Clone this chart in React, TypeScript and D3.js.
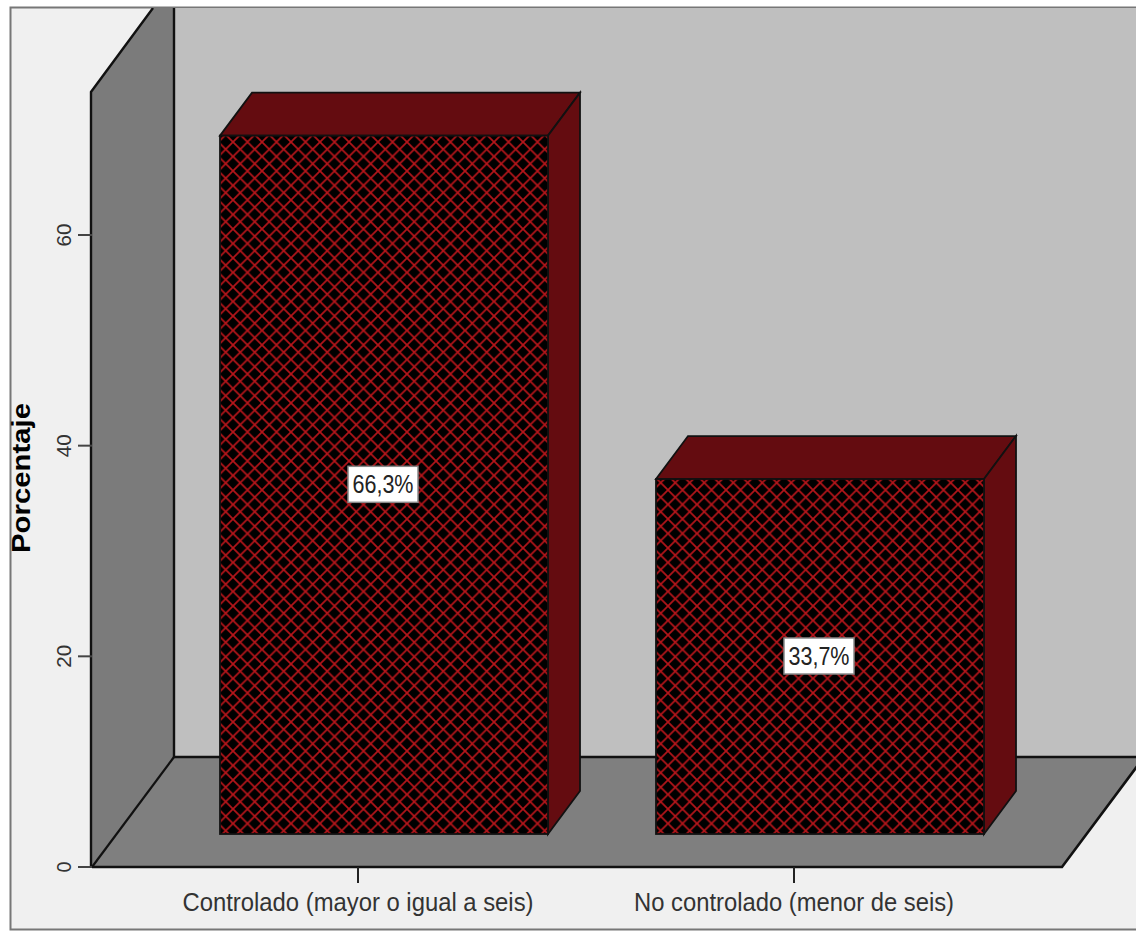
import React from "react";
import * as d3 from "d3";

const categories = ["Controlado (mayor o igual a seis)", "No controlado (menor de seis)"];
const percentages = [66.3, 33.7];
const percentLabels = ["66,3%", "33,7%"];
const yTicks = [0, 20, 40, 60];
const yTitle = "Porcentaje";

const W = 1136;
const H = 931;
const depthX = 32;
const depthY = 43;
const barInset = 33;

const y = d3.scaleLinear().domain([0, 60]).range([867, 235]);
const x = d3.scaleBand<string>().domain(categories).range([140, 1012]);
const barWidth = 328;

const poly = (pts: [number, number][]) => d3.line()(pts) + "Z";
const font = "'Liberation Sans', Arial, sans-serif";

export default function App() {
  return (
    <svg width={W} height={H} viewBox={`0 0 ${W} ${H}`} style={{ position: "absolute", left: 0, top: 0, display: "block" }}>
      <defs>
        <pattern id="hatch" width={14.5} height={14.5} patternUnits="userSpaceOnUse" x={233} y={142}>
          <rect width={14.5} height={14.5} fill="#000" />
          <path d="M0 0L14.5 14.5M14.5 0L0 14.5" stroke="#b5151a" strokeWidth={1.7} strokeLinecap="square" />
        </pattern>
        <clipPath id="frame">
          <rect x={11} y={8} width={W - 11} height={H - 8} />
        </clipPath>
      </defs>

      <rect width={W} height={H} fill="#fff" />
      <rect x={10.5} y={7.5} width={W} height={H - 9} fill="#f0f0f0" stroke="#777" strokeWidth={2} />

      <g clipPath="url(#frame)">
        {/* back wall, side wall and floor of the 3D box */}
        <rect x={174} y={8} width={W} height={749} fill="#bfbfbf" />
        <path d={poly([[92, 92], [153, 8], [174, 8], [174, 757], [92, 867]])} fill="#7b7b7b" stroke="none" />
        <path d={poly([[92, 867], [174, 757], [1144, 757], [1062, 867]])} fill="#7f7f7f" stroke="none" />
        <path d="M91 867V92L153 8" fill="none" stroke="#111" strokeWidth={2.4} />
        <path d="M174 8V757H1136" fill="none" stroke="#111" strokeWidth={2.4} />
        <path d="M92 867L174 757" fill="none" stroke="#111" strokeWidth={2.2} />
        <path d="M92 867H1062L1144 757" fill="none" stroke="#111" strokeWidth={2.6} />

        {/* bars */}
        {categories.map((c, i) => {
          const left = (x(c) as number) + x.bandwidth() / 2 - barWidth / 2 + 26;
          const right = left + barWidth;
          const bottom = y(0) - barInset;
          const top = bottom - (y(0) - y(percentages[i]));
          return (
            <g key={c}>
              <path
                d={poly([[left, top], [left + depthX, top - depthY], [right + depthX, top - depthY], [right, top]])}
                fill="#640c10"
                stroke="#111"
                strokeWidth={1.8}
              />
              <path
                d={poly([[right, top], [right + depthX, top - depthY], [right + depthX, bottom - depthY], [right, bottom]])}
                fill="#640c10"
                stroke="#111"
                strokeWidth={1.8}
              />
              <rect x={left} y={top} width={barWidth} height={bottom - top} fill="url(#hatch)" stroke="#111" strokeWidth={1.8} />
            </g>
          );
        })}
      </g>

      {/* value labels */}
      {categories.map((c, i) => {
        const cx = (x(c) as number) + x.bandwidth() / 2 + 25;
        const bottom = y(0) - barInset;
        const top = bottom - (y(0) - y(percentages[i]));
        const cy = (top + bottom) / 2 - 0.5;
        return (
          <g key={c}>
            <rect x={cx - 35} y={cy - 18} width={70} height={36} fill="#fff" stroke="#888" strokeWidth={1.5} />
            <text x={cx} y={cy + 9} textAnchor="middle" textLength={61} lengthAdjust="spacingAndGlyphs" fontFamily={font} fontSize={25} fill="#222">
              {percentLabels[i]}
            </text>
          </g>
        );
      })}

      {/* y axis */}
      {yTicks.map((t) => (
        <g key={t}>
          <line x1={78} x2={92} y1={y(t)} y2={y(t)} stroke="#444" strokeWidth={2} />
          <text
            transform={`translate(71,${y(t)}) rotate(-90)`}
            textAnchor="middle"
            fontFamily={font}
            fontSize={21}
            fill="#333"
            textLength={t === 0 ? 11 : 23}
            lengthAdjust="spacingAndGlyphs"
          >
            {t}
          </text>
        </g>
      ))}
      <text
        transform="translate(30,478) rotate(-90)"
        textAnchor="middle"
        fontFamily={font}
        fontSize={25}
        fontWeight="bold"
        fill="#000"
        textLength={150}
        lengthAdjust="spacingAndGlyphs"
      >
        {yTitle}
      </text>

      {/* x axis */}
      {categories.map((c, i) => {
        const cx = (x(c) as number) + x.bandwidth() / 2;
        return (
          <g key={c}>
            <line x1={cx} x2={cx} y1={867} y2={883} stroke="#222" strokeWidth={2} />
            <text
              x={cx}
              y={911}
              textAnchor="middle"
              fontFamily={font}
              fontSize={26}
              fill="#333"
              textLength={i === 0 ? 351 : 320}
              lengthAdjust="spacingAndGlyphs"
            >
              {c}
            </text>
          </g>
        );
      })}
    </svg>
  );
}
